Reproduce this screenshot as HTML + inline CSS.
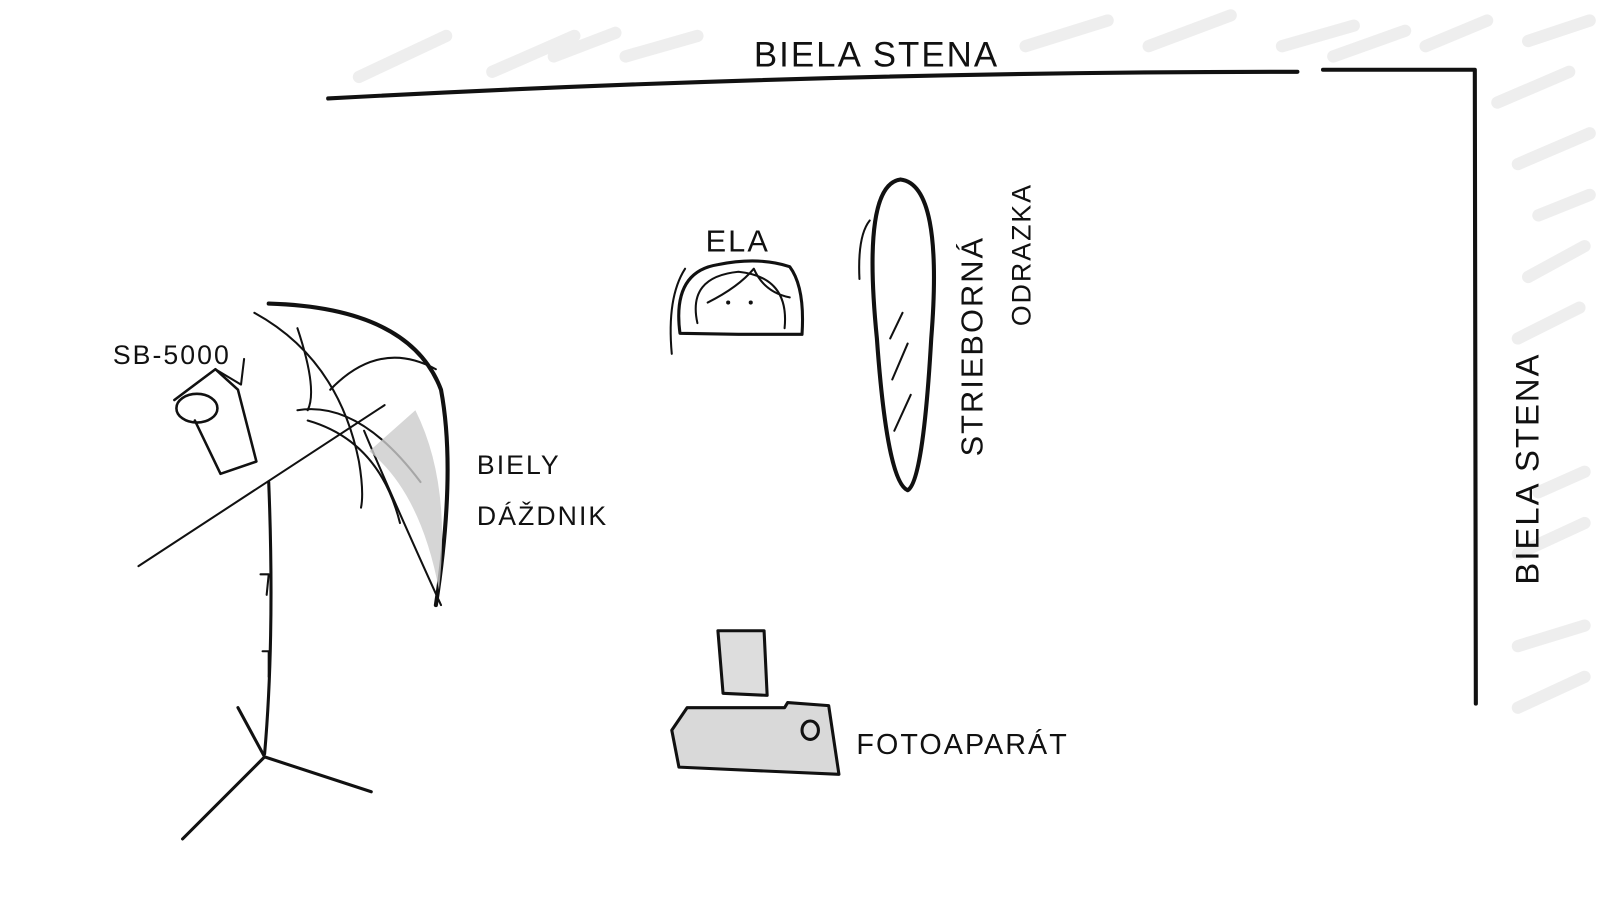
<!DOCTYPE html>
<html><head><meta charset="utf-8"><style>
html,body{margin:0;padding:0;background:#fff;}
svg{display:block}
text{font-family:"Liberation Sans",sans-serif;fill:#111;letter-spacing:2px}
</style></head><body>
<svg width="1600" height="900" viewBox="0 0 1600 900" xmlns="http://www.w3.org/2000/svg">
<g transform="scale(1.0256)">
<g stroke="#ececec" stroke-width="12" stroke-linecap="round" opacity="0.85">
<line x1="350" y1="75" x2="435" y2="35"/><line x1="480" y1="70" x2="560" y2="35"/><line x1="540" y1="55" x2="600" y2="32"/><line x1="610" y1="55" x2="680" y2="35"/>
<line x1="1000" y1="45" x2="1080" y2="20"/><line x1="1120" y1="45" x2="1200" y2="15"/><line x1="1250" y1="45" x2="1320" y2="25"/><line x1="1300" y1="55" x2="1370" y2="30"/><line x1="1390" y1="45" x2="1450" y2="20"/><line x1="1490" y1="40" x2="1550" y2="20"/>
<line x1="1460" y1="100" x2="1530" y2="70"/><line x1="1480" y1="160" x2="1550" y2="130"/><line x1="1500" y1="210" x2="1550" y2="190"/><line x1="1490" y1="270" x2="1545" y2="240"/><line x1="1480" y1="330" x2="1540" y2="300"/><line x1="1500" y1="480" x2="1545" y2="460"/><line x1="1480" y1="540" x2="1545" y2="510"/><line x1="1480" y1="630" x2="1545" y2="610"/><line x1="1480" y1="690" x2="1545" y2="660"/>
</g>
<g fill="none" stroke="#111" stroke-width="4" stroke-linecap="round" stroke-linejoin="round">
<path d="M320 96 Q800 70 1265 70"/>
<path d="M1290 68 L1438 68 L1439 686"/>
<path d="M262 296 Q400 300 430 380 Q445 460 425 590" stroke-width="4"/>
<path d="M248 305 Q330 350 350 450 Q355 480 352 495" stroke-width="2"/>
<path d="M290 320 Q310 380 300 400" stroke-width="2"/>
<path d="M322 380 Q370 330 425 360" stroke-width="2"/>
<path d="M290 400 Q350 390 410 470" stroke-width="2"/>
<path d="M300 410 Q370 430 390 510" stroke-width="2"/>
<path d="M355 420 Q380 480 430 590" stroke-width="2"/>
<path d="M135 552 L375 395" stroke-width="2"/>
<path d="M170 390 L210 360 L232 380 L250 450 L215 462 L190 410" stroke-width="2.5"/>
<ellipse cx="192" cy="398" rx="20" ry="14" stroke-width="2.5"/>
<path d="M210 360 L235 375 L238 350" stroke-width="2"/>
<path d="M262 470 Q268 620 258 735" stroke-width="3"/>
<path d="M258 738 L178 818 M258 738 L362 772 M258 738 L232 690" stroke-width="3"/>
<path d="M254 560 l8 0 l-2 20 M256 635 l6 0 l0 25" stroke-width="2"/>
<path d="M663 325 Q655 265 700 258 Q740 250 770 260 Q785 280 782 326 L720 326 Z" stroke-width="3"/>
<path d="M680 315 Q670 270 720 265 Q770 270 765 320" stroke-width="2"/>
<path d="M690 295 Q720 280 735 262 Q745 285 770 290" stroke-width="2"/>
<path d="M655 345 Q650 290 668 262" stroke-width="2"/>
<path d="M878 175 Q840 180 855 330 Q865 470 885 478 Q900 470 908 330 Q920 180 878 175 Z" stroke-width="4"/>
<path d="M838 272 Q836 230 848 215" stroke-width="2"/>
<path d="M868 330 L880 305 M870 370 L885 335 M872 420 L888 385" stroke-width="2"/>
<path d="M700 615 L745 615 L748 678 L705 676 Z" stroke-width="3" fill="#ddd"/>
<path d="M670 690 L765 690 L768 685 L808 688 L818 755 L662 748 L655 712 Z" stroke-width="3" fill="#d9d9d9"/>
<ellipse cx="790" cy="712" rx="8" ry="9" stroke-width="3"/>
</g>
<path d="M405 400 Q440 470 428 575 Q410 480 360 440 Z" fill="#ccc" opacity="0.8"/>
<circle cx="710" cy="295" r="2" fill="#111"/><circle cx="732" cy="295" r="2" fill="#111"/>
<text x="735" y="65" font-size="34">BIELA STENA</text>
<text x="110" y="355" font-size="26">SB-5000</text>
<text x="688" y="245" font-size="30">ELA</text>
<text x="465" y="462" font-size="26">BIELY</text>
<text x="465" y="512" font-size="26">DÁŽDNIK</text>
<text x="835" y="735" font-size="28">FOTOAPARÁT</text>
<text transform="translate(958,445) rotate(-90)" font-size="30">STRIEBORNÁ</text>
<text transform="translate(1005,318) rotate(-90)" font-size="26">ODRAZKA</text>
<text transform="translate(1500,570) rotate(-90)" font-size="32" letter-spacing="14">BIELA   STENA</text>
</g>
</svg>
</body></html>
